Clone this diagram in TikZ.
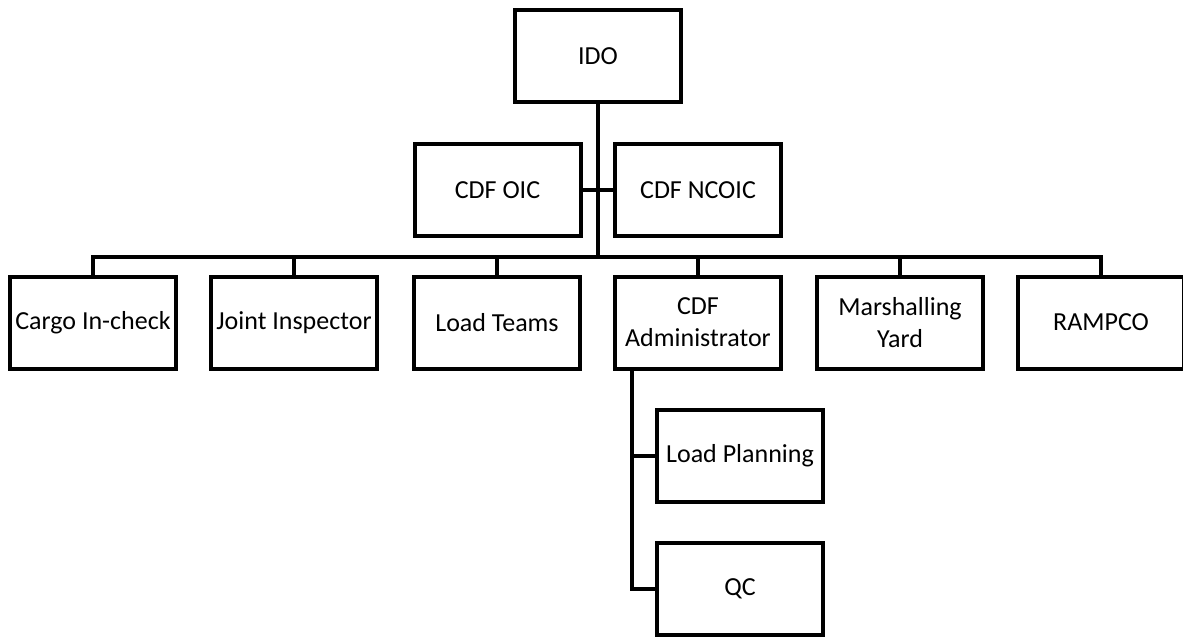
\documentclass[tikz,border=0pt]{standalone}
\usepackage{fontspec}
\setmainfont{Carlito}
\usetikzlibrary{positioning}

\begin{document}
\begin{tikzpicture}[x = 0.5pt, y = -0.5pt,
  box/.style = {draw, line width = 2pt, minimum width = 83pt, minimum height = 46pt,
    inner sep = 1pt, align = center, font = \fontsize{13}{16}\selectfont},
  link/.style = {line width = 2pt}]
\useasboundingbox (0,0) rectangle (1183,637);
\node[box] (ido) at (598,56) {IDO};
\node[box] (oic) at (497.5,190) {CDF OIC};
\node[box] (ncoic) at (698,190) {CDF NCOIC};
\node[box] (cargo) at (93,322.5) {Cargo In-check};
\node[box] (joint) at (294,322.5) {Joint Inspector};
\node[box] (teams) at (497,322.5) {Load Teams};
\node[box] (admin) at (698,322.5) {CDF\\Administrator};
\node[box] (marsh) at (900,322.5) {Marshalling\\Yard};
\node[box] (ramp) at (1101,322.5) {RAMPCO};
\node[box] (plan) at (740,455.5) {Load Planning};
\node[box] (qc) at (740,588.5) {QC};
\coordinate (bus) at (598,257);
\coordinate (spine) at (632,368);
\draw[link] (ido.south) -- (bus);
\draw[link] (oic.east) -- (ncoic.west);
\draw[link] (cargo.north) |- (bus) -| (ramp.north);
\draw[link] (joint.north) -- (joint.north |- bus);
\draw[link] (teams.north) -- (teams.north |- bus);
\draw[link] (admin.north) -- (admin.north |- bus);
\draw[link] (marsh.north) -- (marsh.north |- bus);
\draw[link] (spine) |- (qc.west);
\draw[link] (plan.west) -- (plan.west -| spine);
\end{tikzpicture}
\end{document}
